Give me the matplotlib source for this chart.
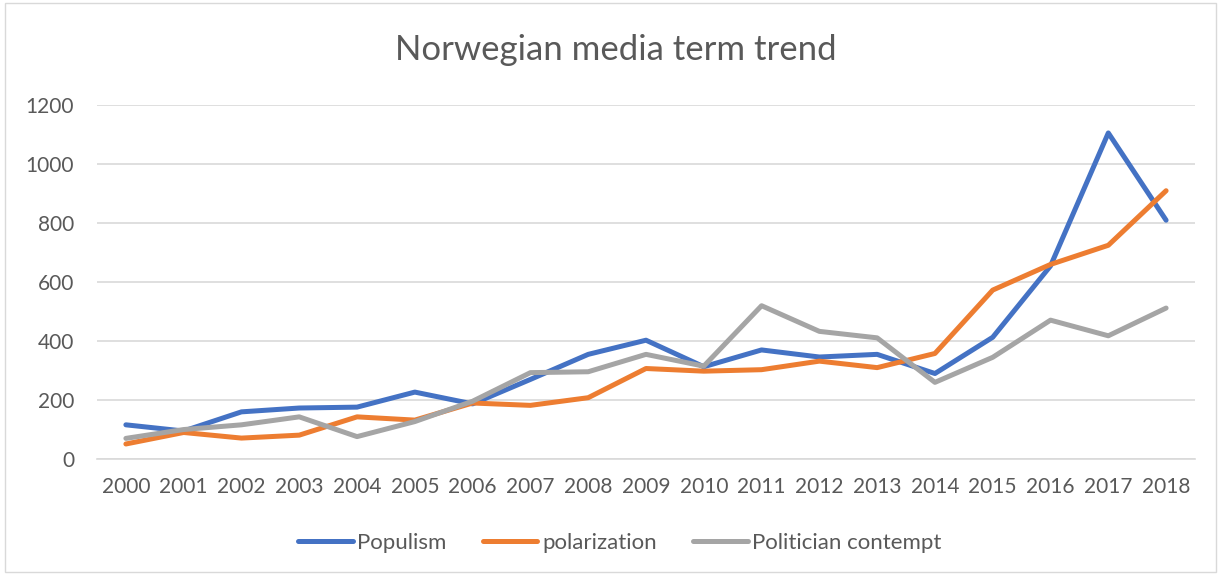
import matplotlib
matplotlib.use("Agg")
import matplotlib.pyplot as plt
from matplotlib.patches import Rectangle

years = [str(y) for y in range(2000, 2019)]
populism = [116, 95, 160, 173, 176, 227, 187, 270, 355, 403, 313, 370, 346, 355, 290, 413, 655, 1106, 810]
polarization = [51, 90, 71, 81, 143, 132, 190, 182, 208, 307, 298, 303, 332, 310, 358, 573, 660, 725, 910]
contempt = [70, 100, 116, 143, 76, 127, 196, 293, 296, 355, 315, 520, 433, 411, 260, 345, 471, 418, 512]

BLUE = "#4472C4"
ORANGE = "#ED7D31"
GRAY = "#A5A5A5"
TEXT = "#595959"

plt.rcParams["font.family"] = ["Lato", "DejaVu Sans"]

fig = plt.figure(figsize=(12.2, 5.75), dpi=100)
ax = fig.add_axes([0.0795, 0.2017, 0.9, 0.6153])

x = range(len(years))
for vals, col, label in [
    (populism, BLUE, "Populism"),
    (polarization, ORANGE, "polarization"),
    (contempt, GRAY, "Politician contempt"),
]:
    ax.plot(x, vals, color=col, linewidth=3.6, label=label,
            solid_capstyle="round", solid_joinstyle="round")

ax.set_xlim(-0.5, len(years) - 0.5)
ax.set_ylim(0, 1200)
ax.set_yticks(range(0, 1201, 200))
ax.set_xticks(list(x))
ax.set_xticklabels(years)
ax.tick_params(axis="both", length=0, labelsize=15, colors=TEXT)
ax.tick_params(axis="x", pad=13)
ax.tick_params(axis="y", pad=16.5)
ax.grid(True, axis="y", color="#D9D9D9", linewidth=1.2)
ax.set_axisbelow(True)
for side in ["top", "right", "left"]:
    ax.spines[side].set_visible(False)
ax.spines["bottom"].set_color("#D9D9D9")
ax.spines["bottom"].set_linewidth(1.2)

fig.text(0.505, 1 - 60 / 575, "Norwegian media term trend", ha="center", va="baseline",
         fontsize=25, color=TEXT)

fig.legend(loc="center", bbox_to_anchor=(0.508, 0.0557), ncol=3, frameon=False,
           fontsize=16, labelcolor=TEXT, handlelength=2.45, handletextpad=0.2,
           columnspacing=1.65)

fig.patches.append(Rectangle((0.004, 0.006), 0.993, 0.988, transform=fig.transFigure,
                             fill=False, edgecolor="#D9D9D9", linewidth=1))

fig.savefig("out.png", dpi=100)
